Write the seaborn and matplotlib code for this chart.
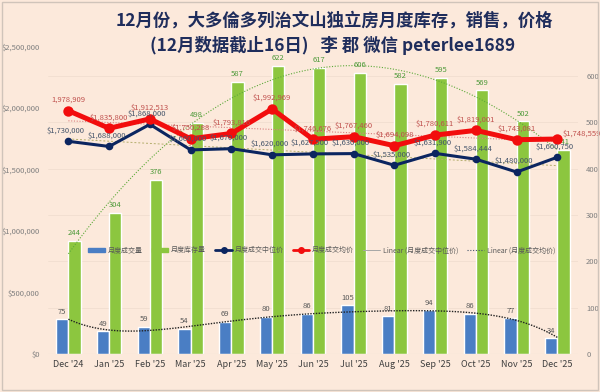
import numpy as np
import pandas as pd
import seaborn as sns
import matplotlib.pyplot as plt
from matplotlib.lines import Line2D
from matplotlib.patches import Patch

# data
months = ["Dec '24", "Jan '25", "Feb '25", "Mar '25", "Apr '25", "May '25", "Jun '25",
          "Jul '25", "Aug '25", "Sep '25", "Oct '25", "Nov '25", "Dec '25"]
sales = [75, 49, 59, 54, 69, 80, 86, 105, 81, 94, 86, 77, 34]
inventory = [244, 304, 376, 498, 587, 622, 617, 606, 582, 595, 569, 502, 441]
median_price = [1730000, 1688000, 1868000, 1660000, 1670000, 1620000, 1627500,
                1630000, 1535000, 1631900, 1584444, 1480000, 1600750]
avg_price = [1978909, 1835800, 1912513, 1750288, 1793816, 1992969, 1746676,
             1767460, 1694098, 1780611, 1819001, 1743081, 1748559]

legend_names = ["月度成交量", "月度库存量", "月度成交中位价", "月度成交均价",
                "Linear (月度成交中位价)", "Linear (月度成交均价)"]

bg = "#FCE9DB"
blue = "#4A7EC4"
green = "#8CC63F"
navy = "#0B2560"
red = "#F20D0D"

sns.set_theme(style="white")
plt.rcParams["font.family"] = ["Noto Sans CJK SC", "DejaVu Sans"]

fig = plt.figure(figsize=(6, 3.92), dpi=100, facecolor=bg)
ax = fig.add_axes([0.08, 0.097, 0.883, 0.784])   # bars, counts on right
ax.set_facecolor(bg)

x = np.arange(len(months))
df = pd.DataFrame({
    "month": months * 2,
    "kind": [legend_names[0]] * len(months) + [legend_names[1]] * len(months),
    "value": sales + inventory,
})
sns.barplot(data=df, x="month", y="value", hue="kind", palette=[blue, green],
            width=0.6, saturation=1, ax=ax, legend=False)

# trend lines for counts
sns.regplot(x=x, y=inventory, order=3, ci=None, scatter=False, truncate=True, ax=ax,
            line_kws=dict(color="#5DAA3A", lw=0.8, ls=(0, (1, 1.5))))
sns.regplot(x=x, y=sales, order=5, ci=None, scatter=False, truncate=True, ax=ax,
            line_kws=dict(color="#222222", lw=1.0, ls=(0, (1, 1))))

for i in range(len(months)):
    ax.text(i - 0.15, sales[i] + 8, str(sales[i]), ha="center", va="bottom",
            fontsize=5.5, color="#595959")
    ax.text(i + 0.15, inventory[i] + 8, str(inventory[i]), ha="center", va="bottom",
            fontsize=5.5, color="#4E9A3A")

ax.set_ylim(0, 663)
ax.set_xlim(-0.5, 12.5)
ax.set_yticks(range(0, 700, 100))
ax.tick_params(axis="x", labelsize=6.5, labelcolor="#404040", length=0, pad=4)
ax.set_xlabel("")
ax.set_ylabel("")
ax.grid(axis="y", color="#EEDCCD", lw=0.5)
for s in ax.spines.values():
    s.set_visible(False)
ax.axhline(0, color="#D9D9D9", lw=0.8)

# price lines on the twin axis (left side)
ax2 = ax.twinx()
ax2.patch.set_visible(False)
sns.regplot(x=x, y=median_price, order=1, ci=None, scatter=False, truncate=True, ax=ax2,
            line_kws=dict(color="#B3AD6B", lw=0.7, ls=(0, (2, 2))))
sns.regplot(x=x, y=avg_price, order=1, ci=None, scatter=False, truncate=True, ax=ax2,
            line_kws=dict(color="#D98080", lw=0.8, ls=(0, (1, 1.5))))
sns.lineplot(x=x, y=median_price, ax=ax2, color=navy, lw=2.2, marker="o",
             markersize=5.5, markeredgewidth=0)
sns.lineplot(x=x, y=avg_price, ax=ax2, color=red, lw=3.6, marker="o",
             markersize=7.5, markeredgewidth=0)

for i in range(len(months)):
    lab = f"{avg_price[i]:,}" if i == 0 else f"${avg_price[i]:,}"
    if i == len(months) - 1:
        ax2.annotate(lab, (i, avg_price[i]), xytext=(4, 1), textcoords="offset points",
                     ha="left", va="bottom", fontsize=5.5, color="#C0504D")
    else:
        ax2.annotate(lab, (i, avg_price[i]), xytext=(0, 5), textcoords="offset points",
                     ha="center", va="bottom", fontsize=5.5, color="#C0504D")
    ax2.annotate(f"${median_price[i]:,}", (i, median_price[i]), xytext=(-2, 5),
                 textcoords="offset points", ha="center", va="bottom",
                 fontsize=5.5, color="#44546A")

ax2.set_ylim(0, 2500000)
ax2.set_yticks(range(0, 2500001, 500000))
ax2.set_yticklabels([f"${v:,}" for v in range(0, 2500001, 500000)])
ax2.set_ylabel("")
for s in ax2.spines.values():
    s.set_visible(False)

# twinx puts the first axis ticks on the left, so swap them here
ax.yaxis.tick_right()
ax.tick_params(axis="y", labelsize=5.5, labelcolor="#7F7F7F", length=0, pad=6)
ax2.yaxis.tick_left()
ax2.tick_params(axis="y", labelsize=5.5, labelcolor="#7F7F7F", length=0, pad=6)

handles = [
    Patch(color=blue), Patch(color=green),
    Line2D([], [], color=navy, lw=2, marker="o", markersize=4),
    Line2D([], [], color=red, lw=2, marker="o", markersize=4),
    Line2D([], [], color="#A6A6A6", lw=0.7),
    Line2D([], [], color="#44546A", lw=0.8, ls=(0, (1, 1.5))),
]
ax2.legend(handles, legend_names, loc="center", bbox_to_anchor=(0.536, 0.362),
           bbox_transform=fig.transFigure, ncol=6, frameon=False, fontsize=5,
           labelcolor="#595959", handlelength=2.4, handleheight=0.5,
           columnspacing=1.3, handletextpad=0.4)

fig.text(0.558, 0.948, "12月份，大多倫多列治文山独立房月度库存，销售，价格",
         ha="center", va="center", fontsize=12.5, fontweight="bold", color="#1F2D5C")
fig.text(0.555, 0.884, "(12月数据截止16日)   李 郡 微信 peterlee1689",
         ha="center", va="center", fontsize=12.5, fontweight="bold", color="#1F2D5C")

fig.patches.append(plt.Rectangle((0.003, 0.004), 0.994, 0.992, transform=fig.transFigure,
                                 fill=False, ec="#D0C4BA", lw=1))

fig.savefig("out.png", dpi=100, facecolor=bg)
